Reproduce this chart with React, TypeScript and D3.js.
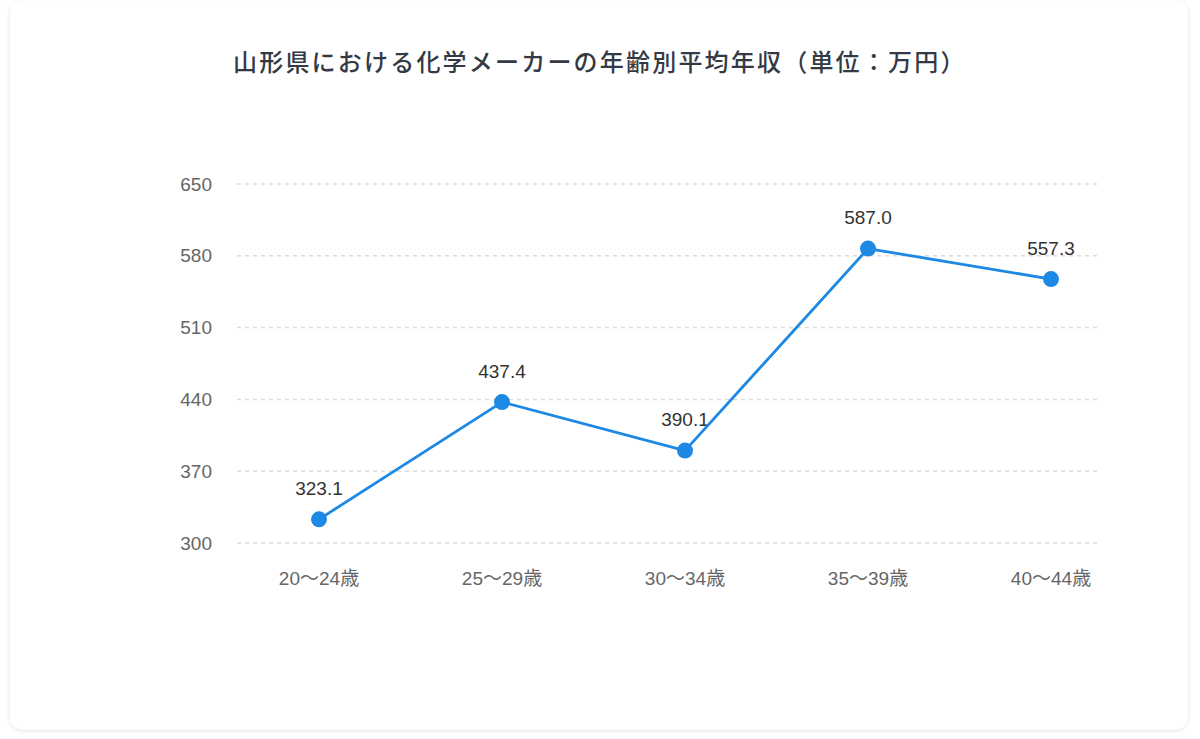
import * as d3 from 'd3'

const categories = ['20〜24歳', '25〜29歳', '30〜34歳', '35〜39歳', '40〜44歳']
const salaries = [323.1, 437.4, 390.1, 587.0, 557.3]
const yTicks = [300, 370, 440, 510, 580, 650]
const title = '山形県における化学メーカーの年齢別平均年収（単位：万円）'

const W = 1200
const H = 739
const gridLeft = 237
const gridRight = 1097
const top = 184
const bottom = 543
const lineColor = '#1e88e5'
const font = '"Liberation Sans", Arial, "Noto Sans CJK JP", sans-serif'

export default function App() {
  const x = d3.scalePoint<string>().domain(categories).range([319, 1051])
  const y = d3.scaleLinear().domain([300, 650]).range([bottom, top])

  const points = categories.map((c, i) => ({ c, v: salaries[i] }))
  const path = d3
    .line<{ c: string; v: number }>()
    .x((d) => x(d.c) ?? 0)
    .y((d) => y(d.v))(points)

  return (
    <svg width={W} height={H} style={{ position: 'fixed', left: 0, top: 0 }}>
      <defs>
        <filter id="card-shadow" x="-5%" y="-5%" width="110%" height="110%">
          <feDropShadow dx="0" dy="1" stdDeviation="2" floodColor="#000" floodOpacity="0.12" />
        </filter>
      </defs>
      <rect x={0} y={0} width={W} height={H} fill="#fff" />
      <rect
        x={10}
        y={0.5}
        width={1178}
        height={729}
        rx={13}
        fill="#fff"
        filter="url(#card-shadow)"
      />

      <text
        x={233}
        y={71}
        fontFamily='"Noto Sans CJK JP", sans-serif'
        fontSize={24}
        fontWeight={500}
        letterSpacing={2.2}
        fill="#333a45"
      >
        {title}
      </text>

      {/* grid + y labels */}
      {yTicks.map((t) => (
        <g key={t}>
          <line
            x1={gridLeft}
            x2={gridRight}
            y1={y(t)}
            y2={y(t)}
            stroke="#dcdcdc"
            strokeWidth={1.5}
            strokeDasharray="4 4"
          />
          <text
            x={212}
            y={y(t)}
            dy="0.35em"
            textAnchor="end"
            fontFamily={font}
            fontSize={19}
            fill="#666"
          >
            {t}
          </text>
        </g>
      ))}

      {/* x labels */}
      {categories.map((c) => (
        <text
          key={c}
          x={x(c)}
          y={578}
          dy="0.35em"
          textAnchor="middle"
          fontFamily={font}
          fontSize={19}
          fill="#666"
        >
          {c}
        </text>
      ))}

      {/* value labels */}
      {points.map((d) => (
        <text
          key={d.c}
          x={x(d.c)}
          y={y(d.v) - 31}
          dy="0.35em"
          textAnchor="middle"
          fontFamily={font}
          fontSize={19}
          fill="#333"
        >
          {d.v.toFixed(1)}
        </text>
      ))}

      <path d={path ?? ''} fill="none" stroke={lineColor} strokeWidth={2.8} strokeLinejoin="round" />
      {points.map((d) => (
        <circle key={d.c} cx={x(d.c)} cy={y(d.v)} r={8} fill={lineColor} />
      ))}
    </svg>
  )
}
